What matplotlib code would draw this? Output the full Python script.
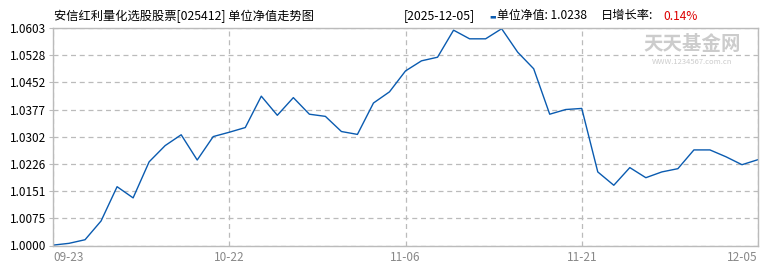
import numpy as np
import matplotlib.pyplot as plt

plt.rcParams['font.family'] = ['Noto Sans CJK SC', 'DejaVu Sans']

# NAV values (evenly spaced points)
nav = [1.0001, 1.0006, 1.0016, 1.0068, 1.0163, 1.0132, 1.0232, 1.0277, 1.0307,
       1.0237, 1.0302, 1.0314, 1.0327, 1.0414, 1.0361, 1.0410, 1.0364, 1.0358,
       1.0316, 1.0308, 1.0395, 1.0426, 1.0484, 1.0512, 1.0522, 1.0597, 1.0573,
       1.0573, 1.0601, 1.0536, 1.0490, 1.0364, 1.0377, 1.0380, 1.0204, 1.0167,
       1.0216, 1.0188, 1.0204, 1.0213, 1.0265, 1.0265, 1.0246, 1.0224, 1.0238]
x_labels = ['09-23', '10-22', '11-06', '11-21', '12-05']
x_label_pos = [0, 11, 22, 33, 44]
y_ticks = [1.0000, 1.0075, 1.0151, 1.0226, 1.0302, 1.0377, 1.0452, 1.0528, 1.0603]

fund_title = '安信红利量化选股股票[025412] 单位净值走势图'
last_date = '[2025-12-05]'
last_nav = '单位净值: 1.0238'
last_rate = '0.14%'

fig = plt.figure(figsize=(7.7, 2.7), dpi=100)
ax = fig.add_axes([53/770, 24.5/270, 705/770, 217.5/270])

x = np.arange(len(nav))
ax.plot(x, nav, color='#0a5bb0', linewidth=1.0)

ax.set_xlim(0, len(nav) - 1)
ax.set_ylim(1.0, 1.0603)
ax.set_yticks(y_ticks)
ax.set_yticklabels(['%.4f' % v for v in y_ticks], fontsize=8.5, color='black')
ax.set_xticks(x_label_pos)
ax.set_xticklabels(x_labels, fontsize=8.5, color='#888888')
xl = ax.get_xticklabels()
xl[0].set_ha('left')
xl[-1].set_ha('right')
ax.tick_params(axis='y', length=3, color='#bbbbbb', pad=2)
ax.tick_params(axis='x', length=0, pad=4)

ax.grid(True, color='#bbbbbb', linestyle=(0, (4, 3)), linewidth=0.9)
for s in ax.spines.values():
    s.set_color('#bbbbbb')
    s.set_linewidth(1.0)

# header text
yh = 1 - 16/270
fig.text(54/770, yh, fund_title, fontsize=8.8, va='center', ha='left')
fig.text(404/770, yh, last_date, fontsize=8.8, va='center', ha='left')
fig.text(489/770, yh, '▬', fontsize=5, va='center', ha='left',
         color='#0a5bb0', family=['DejaVu Sans'])
fig.text(497/770, yh, last_nav, fontsize=8.6, va='center', ha='left')
fig.text(601/770, yh, '日增长率:', fontsize=8.8, va='center', ha='left')
fig.text(663/770, yh, last_rate, fontsize=8.6, va='center', ha='left',
         color='#dd0000')

# watermark
fig.text(692/770, 1 - 44/270, '天天基金网', fontsize=14, va='center', ha='center',
         color='#cccccc', fontweight='bold')
fig.text(692/770, 1 - 62/270, 'WWW.1234567.com.cn', fontsize=5.5, va='center',
         ha='center', color='#cccccc')

fig.savefig('out.png', dpi=100)
